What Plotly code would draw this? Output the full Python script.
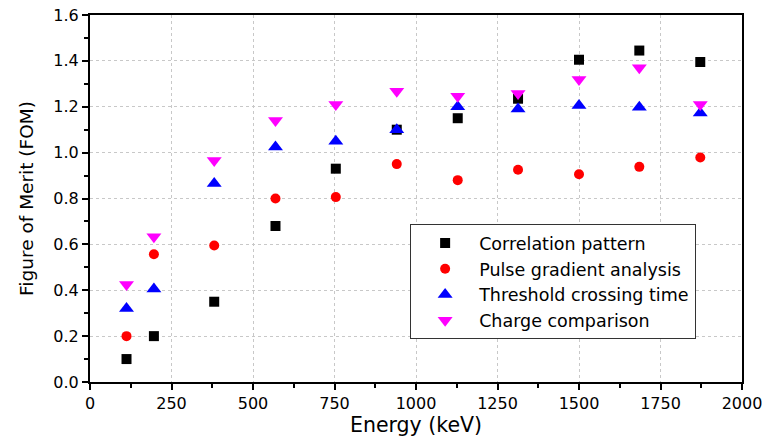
import plotly.graph_objects as go

# Energy of each measurement point (keV)
energy = [112, 196, 381, 569, 754, 941, 1128, 1313, 1500, 1685, 1872]

# Figure of merit for each discrimination method
correlation_pattern = [0.10, 0.20, 0.35, 0.68, 0.93, 1.10, 1.15, 1.235, 1.405, 1.445, 1.395]
pulse_gradient = [0.20, 0.557, 0.595, 0.80, 0.806, 0.95, 0.88, 0.925, 0.906, 0.938, 0.979]
threshold_crossing = [0.32, 0.405, 0.865, 1.025, 1.05, 1.10, 1.20, 1.19, 1.205, 1.198, 1.173]
charge_comparison = [0.425, 0.633, 0.966, 1.14, 1.21, 1.268, 1.246, 1.258, 1.319, 1.37, 1.21]

x_ticks = [0, 250, 500, 750, 1000, 1250, 1500, 1750, 2000]
y_ticks = [0.0, 0.2, 0.4, 0.6, 0.8, 1.0, 1.2, 1.4, 1.6]

FONT = "DejaVu Sans"

series = [
    ("Correlation pattern", correlation_pattern, "square", "#000000", 10),
    ("Pulse gradient analysis", pulse_gradient, "circle", "#ff0000", 10),
    ("Threshold crossing time", threshold_crossing, "triangle-up", "#0000ff", 13),
    ("Charge comparison", charge_comparison, "triangle-down", "#ff00ff", 13),
]

fig = go.Figure()
for name, values, symbol, color, size in series:
    fig.add_trace(go.Scatter(
        x=energy, y=values, mode="markers", name=name,
        marker=dict(symbol=symbol, color=color, size=size, line=dict(width=0)),
    ))

axis_common = dict(
    showline=True, linecolor="#000000", linewidth=2, mirror=True,
    ticks="outside", ticklen=6, tickwidth=2, tickcolor="#000000",
    showgrid=True, gridcolor="#c8c8c8", gridwidth=1, griddash="3px,3px",
    zeroline=False, automargin=False,
    tickfont=dict(family=FONT, size=16, color="#000000"),
)
minor_common = dict(ticks="outside", ticklen=4, tickwidth=2, tickcolor="#000000", showgrid=False)

fig.update_xaxes(
    range=[0, 2000], tickvals=x_ticks,
    minor=dict(dtick=125, **minor_common),
    title=dict(text="Energy (keV)", font=dict(family=FONT, size=20.5, color="#000000")),
    **axis_common,
)
fig.update_yaxes(
    range=[0, 1.6], tickvals=y_ticks, tickformat=".1f",
    minor=dict(dtick=0.1, **minor_common),
    title=dict(text="Figure of Merit (FOM)", font=dict(family=FONT, size=18.5, color="#000000")),
    **axis_common,
)

fig.update_layout(
    width=769, height=437,
    margin=dict(l=90, r=27, t=15, b=55),
    paper_bgcolor="#ffffff", plot_bgcolor="#ffffff",
    font=dict(family=FONT, color="#000000"),
    showlegend=True,
    legend=dict(
        x=0.491, y=0.43, xanchor="left", yanchor="top",
        bgcolor="#ffffff", bordercolor="#333333", borderwidth=1,
        font=dict(family=FONT, size=17.5, color="#000000"),
        itemwidth=58,
    ),
)

fig.write_html("out.html")
